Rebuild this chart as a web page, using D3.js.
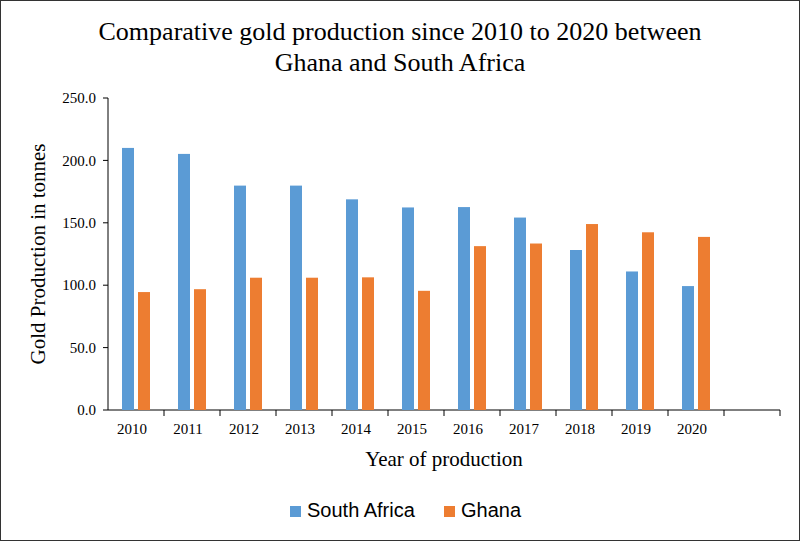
<!DOCTYPE html>
<html><head><meta charset="utf-8">
<script src="https://cdn.jsdelivr.net/npm/d3@7"></script>
<style>body{margin:0;background:#fff}svg{font-family:"Liberation Serif","Times New Roman",serif}</style>
</head><body><svg id="c"></svg>
<script>
const years = ["2010","2011","2012","2013","2014","2015","2016","2017","2018","2019","2020",""];
const southAfrica = [210.0, 205.2, 179.8, 179.8, 168.8, 162.3, 162.6, 154.2, 128.2, 111.0, 99.3];
const ghana = [94.5, 96.8, 106.0, 106.0, 106.3, 95.5, 131.3, 133.4, 149.0, 142.4, 138.7];
const yTicks = [0, 50, 100, 150, 200, 250];

const W = 800, H = 541;
const margin = { top: 98, right: 20, bottom: 131, left: 108 };
const width = W - margin.left - margin.right;
const height = H - margin.top - margin.bottom;

const root = d3.select("#c").attr("width", W).attr("height", H);
root.append("rect").attr("x", 0.5).attr("y", 0.5).attr("width", W - 1).attr("height", H - 1)
  .attr("fill", "#fff").attr("stroke", "#333");

const svg = root.append("g").attr("transform", `translate(${margin.left},${margin.top})`);

const x = d3.scaleBand().domain(years).range([0, width]);
const y = d3.scaleLinear().domain([0, 250]).range([height, 0]);
const bw = 12, gap = 4;

// y axis
svg.append("line").attr("x1", 0).attr("x2", 0).attr("y1", 0).attr("y2", height).attr("stroke", "#000");
yTicks.forEach(t => {
  svg.append("line").attr("x1", -5).attr("x2", 0).attr("y1", y(t)).attr("y2", y(t)).attr("stroke", "#000");
  svg.append("text").attr("x", -12).attr("y", y(t)).attr("dy", "0.35em").attr("text-anchor", "end")
    .attr("font-size", 15).text(t.toFixed(1));
});

// x axis
svg.append("line").attr("x1", 0).attr("x2", width).attr("y1", height).attr("y2", height).attr("stroke", "#000");
years.forEach((yr, i) => {
  svg.append("line").attr("x1", x(yr) + x.bandwidth()).attr("x2", x(yr) + x.bandwidth())
    .attr("y1", height).attr("y2", height + 6).attr("stroke", "#000");
  svg.append("text").attr("x", x(yr) + x.bandwidth() / 2 - 4).attr("y", height + 24)
    .attr("text-anchor", "middle").attr("font-size", 15).text(yr);
});

const data = years.slice(0, 11).map((yr, i) => ({ yr, sa: southAfrica[i], gh: ghana[i] }));
svg.selectAll(".sa").data(data).enter().append("rect")
  .attr("x", d => x(d.yr) + x.bandwidth() / 2 - gap / 2 - bw)
  .attr("y", d => y(d.sa)).attr("width", bw).attr("height", d => height - y(d.sa))
  .attr("fill", "#5b9bd5");
svg.selectAll(".gh").data(data).enter().append("rect")
  .attr("x", d => x(d.yr) + x.bandwidth() / 2 + gap / 2)
  .attr("y", d => y(d.gh)).attr("width", bw).attr("height", d => height - y(d.gh))
  .attr("fill", "#ed7d31");

// titles
root.append("text").attr("x", 400).attr("y", 40).attr("text-anchor", "middle").attr("font-size", 26)
  .text("Comparative gold production since 2010 to 2020 between");
root.append("text").attr("x", 400).attr("y", 71).attr("text-anchor", "middle").attr("font-size", 26)
  .text("Ghana and South Africa");
root.append("text").attr("x", 444).attr("y", 466).attr("text-anchor", "middle").attr("font-size", 21)
  .text("Year of production");
root.append("text").attr("transform", "translate(45,254) rotate(-90)").attr("text-anchor", "middle")
  .attr("font-size", 21).text("Gold Production in tonnes");

// legend
const leg = [["South Africa", "#5b9bd5", 290], ["Ghana", "#ed7d31", 444]];
leg.forEach(([name, c, lx]) => {
  root.append("rect").attr("x", lx).attr("y", 506).attr("width", 11).attr("height", 11).attr("fill", c);
  root.append("text").attr("x", lx + 17).attr("y", 517).attr("font-size", 20)
    .attr("font-family", "Liberation Sans, Arial, sans-serif").text(name);
});
</script></body></html>
